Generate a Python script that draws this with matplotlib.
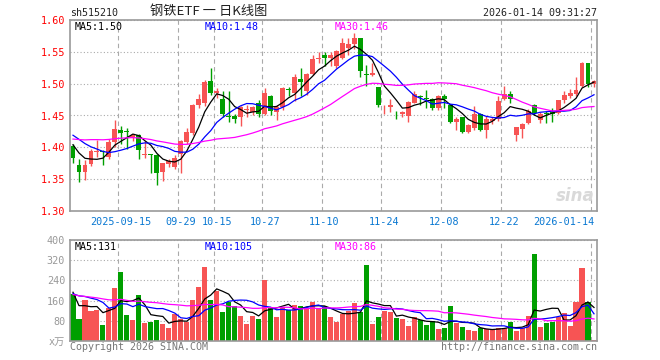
import numpy as np
import pandas as pd
import matplotlib
matplotlib.use('Agg')
import matplotlib.pyplot as plt

plt.rcParams['font.family'] = ['DejaVu Sans Mono', 'Noto Sans CJK SC']

# daily bars, 2025-09-03 .. 2026-01-14
opens = [1.402, 1.373, 1.361, 1.374, 1.393, 1.395, 1.385, 1.408, 1.428, 1.425,
         1.417, 1.419, 1.388, 1.389, 1.388, 1.361, 1.374, 1.369, 1.389, 1.409,
         1.422, 1.466, 1.469, 1.504, 1.485, 1.476, 1.449, 1.449, 1.448, 1.459,
         1.456, 1.470, 1.452, 1.480, 1.456, 1.464, 1.492, 1.486, 1.507, 1.488,
         1.515, 1.538, 1.545, 1.541, 1.527, 1.540, 1.556, 1.563, 1.571, 1.515,
         1.513, 1.494, 1.463, 1.464, 1.456, 1.452, 1.450, 1.470, 1.480, 1.478,
         1.476, 1.461, 1.480, 1.466, 1.440, 1.447, 1.424, 1.431, 1.452, 1.428,
         1.441, 1.444, 1.476, 1.483, 1.420, 1.429, 1.438, 1.466, 1.443, 1.454,
         1.456, 1.454, 1.474, 1.481, 1.483, 1.496, 1.532, 1.499]
highs = [1.405, 1.382, 1.380, 1.398, 1.412, 1.396, 1.413, 1.443, 1.434, 1.430,
         1.421, 1.421, 1.410, 1.389, 1.389, 1.376, 1.382, 1.388, 1.412, 1.431,
         1.468, 1.484, 1.506, 1.524, 1.493, 1.489, 1.489, 1.453, 1.465, 1.467,
         1.465, 1.474, 1.493, 1.482, 1.467, 1.495, 1.494, 1.515, 1.525, 1.517,
         1.545, 1.549, 1.549, 1.550, 1.553, 1.571, 1.572, 1.579, 1.572, 1.529,
         1.533, 1.494, 1.466, 1.476, 1.457, 1.457, 1.472, 1.488, 1.482, 1.490,
         1.478, 1.482, 1.483, 1.468, 1.448, 1.448, 1.436, 1.465, 1.454, 1.449,
         1.447, 1.480, 1.496, 1.488, 1.432, 1.438, 1.460, 1.468, 1.456, 1.457,
         1.462, 1.475, 1.488, 1.492, 1.510, 1.534, 1.533, 1.506]
lows = [1.375, 1.346, 1.348, 1.370, 1.385, 1.372, 1.382, 1.401, 1.405, 1.398,
        1.410, 1.381, 1.383, 1.360, 1.341, 1.347, 1.369, 1.366, 1.360, 1.406,
        1.419, 1.462, 1.465, 1.482, 1.478, 1.447, 1.440, 1.438, 1.433, 1.448,
        1.450, 1.448, 1.450, 1.451, 1.443, 1.458, 1.480, 1.473, 1.481, 1.482,
        1.514, 1.532, 1.527, 1.527, 1.524, 1.538, 1.545, 1.555, 1.511, 1.496,
        1.512, 1.464, 1.452, 1.455, 1.445, 1.447, 1.440, 1.469, 1.467, 1.462,
        1.459, 1.459, 1.461, 1.438, 1.427, 1.422, 1.422, 1.428, 1.425, 1.415,
        1.437, 1.441, 1.474, 1.470, 1.410, 1.415, 1.436, 1.451, 1.438, 1.438,
        1.440, 1.452, 1.470, 1.478, 1.481, 1.494, 1.494, 1.495]
closes = [1.383, 1.361, 1.373, 1.394, 1.395, 1.392, 1.408, 1.429, 1.423, 1.424,
          1.420, 1.396, 1.389, 1.388, 1.360, 1.375, 1.379, 1.383, 1.410, 1.424,
          1.466, 1.476, 1.503, 1.486, 1.489, 1.453, 1.447, 1.445, 1.463, 1.460,
          1.463, 1.452, 1.485, 1.457, 1.464, 1.493, 1.490, 1.511, 1.503, 1.515,
          1.539, 1.541, 1.540, 1.545, 1.551, 1.564, 1.563, 1.571, 1.520, 1.513,
          1.517, 1.467, 1.464, 1.467, 1.455, 1.455, 1.471, 1.483, 1.479, 1.476,
          1.462, 1.481, 1.476, 1.440, 1.445, 1.424, 1.435, 1.452, 1.428, 1.444,
          1.445, 1.472, 1.483, 1.476, 1.432, 1.436, 1.457, 1.454, 1.452, 1.452,
          1.453, 1.474, 1.482, 1.486, 1.490, 1.533, 1.500, 1.504]
# volume, 万
volumes = [187, 88, 164, 120, 124, 65, 131, 208, 272, 104,
           84, 184, 73, 76, 84, 69, 52, 107, 87, 77,
           164, 212, 292, 164, 200, 116, 156, 140, 100, 69,
           100, 88, 240, 131, 96, 136, 124, 144, 140, 131,
           156, 127, 140, 96, 76, 107, 120, 151, 116, 300,
           68, 97, 120, 116, 92, 87, 60, 97, 83, 64,
           80, 48, 53, 140, 72, 56, 44, 40, 52, 47,
           44, 53, 52, 76, 40, 53, 100, 344, 56, 72,
           77, 97, 111, 60, 156, 288, 156, 4]
# 29 sessions before the window, only used for the moving averages
pre_closes = [1.385, 1.39, 1.38, 1.395, 1.40, 1.39, 1.395, 1.40, 1.405, 1.41,
              1.415, 1.42, 1.43, 1.425, 1.42, 1.43, 1.435, 1.425, 1.42, 1.43,
              1.425, 1.44, 1.445, 1.43, 1.43, 1.425, 1.415, 1.40, 1.397]
pre_volumes = [230, 250, 200, 210, 190, 240, 220, 200, 230, 200,
               160, 140, 150, 130, 170, 140, 150, 145, 155, 140,
               170, 190, 185, 180, 180, 353, 165, 140, 120]

tick_idx = [8, 18, 24, 32, 42, 52, 62, 72, 87]
tick_labels = ['2025-09-15', '09-29', '10-15', '10-27', '11-10',
               '11-24', '12-08', '12-22', '2026-01-14']

RED = '#f75454'
GREEN = '#009f00'
FRAME = '#9a9a9a'
n = len(closes)
x = np.arange(n)


def ma(pre, vals, k):
    s = pd.Series(pre + vals, dtype=float).rolling(k).mean()
    return s.iloc[len(pre):].values


fig = plt.figure(figsize=(6.6, 3.6), dpi=100)
ax = fig.add_axes([70 / 660, 149 / 360, 527 / 660, 191 / 360])
axv = fig.add_axes([70 / 660, 19 / 360, 527 / 660, 101 / 360])

for a in (ax, axv):
    a.set_xlim(-0.5, n - 0.5)
    for s in a.spines.values():
        s.set_color(FRAME)
        s.set_linewidth(1.2)
    a.tick_params(length=0, labelsize=7.3)
    for t in tick_idx:
        a.axvline(t - 0.5, color='#aaaaaa', lw=0.8, ls=(0, (4, 3)), zorder=0)

# candles
o = np.array(opens); c = np.array(closes)
up = c >= o
col = np.where(up, RED, GREEN)
ax.vlines(x, lows, highs, colors=col, lw=1, zorder=2)
body = np.maximum(np.abs(c - o), 0.0008)
ax.bar(x, body, bottom=np.minimum(o, c), width=0.82, color=col, lw=0, zorder=3)

ax.plot(x, ma(pre_closes, closes, 5), color='black', lw=0.9, zorder=4)
ax.plot(x, ma(pre_closes, closes, 10), color='#0000ff', lw=0.9, zorder=4)
ax.plot(x, ma(pre_closes, closes, 30), color='#ff00ff', lw=0.9, zorder=4)

ax.set_ylim(1.30, 1.60)
yt = [1.30, 1.35, 1.40, 1.45, 1.50, 1.55, 1.60]
ax.set_yticks(yt)
ax.set_yticklabels(['%.2f' % v for v in yt], color='#ff0000')
ax.yaxis.grid(True, color='#aaaaaa', lw=0.8, ls=(0, (1, 2)))
ax.set_axisbelow(True)
ax.set_xticks(tick_idx)
ax.set_xticklabels(tick_labels, color='#0a78d2')
ax.tick_params(axis='x', pad=4)
ax.get_xticklabels()[-1].set_ha('right')

ax.text(5 / 527, 1 - 7 / 191, 'MA5:1.50', transform=ax.transAxes, fontsize=7.2, color='black', va='center')
ax.text(135 / 527, 1 - 7 / 191, 'MA10:1.48', transform=ax.transAxes, fontsize=7.2, color='#0000ff', va='center')
ax.text(265 / 527, 1 - 7 / 191, 'MA30:1.46', transform=ax.transAxes, fontsize=7.2, color='#ff00ff', va='center')
ax.text(0.995, 0.03, 'sina', transform=ax.transAxes, ha='right', va='bottom',
        fontsize=12, fontstyle='italic', fontweight='bold', color='#d9d9d9', family='DejaVu Sans')

# volume
axv.bar(x, volumes, width=0.85, color=col, lw=0, zorder=2)
axv.plot(x, ma(pre_volumes, volumes, 5), color='black', lw=0.9, zorder=4)
axv.plot(x, ma(pre_volumes, volumes, 10), color='#0000ff', lw=0.9, zorder=4)
axv.plot(x, ma(pre_volumes, volumes, 30), color='#ff00ff', lw=0.9, zorder=4)
axv.set_ylim(0, 400)
axv.set_yticks([0, 80, 160, 240, 320, 400])
axv.set_yticklabels(['x万', '80', '160', '240', '320', '400'], color='#999999')
axv.yaxis.grid(True, color='#aaaaaa', lw=0.8, ls=(0, (1, 2)))
axv.set_axisbelow(True)
axv.set_xticks([])
axv.text(5 / 527, 1 - 7 / 101, 'MA5:131', transform=axv.transAxes, fontsize=7.2, color='black', va='center')
axv.text(135 / 527, 1 - 7 / 101, 'MA10:105', transform=axv.transAxes, fontsize=7.2, color='#0000ff', va='center')
axv.text(265 / 527, 1 - 7 / 101, 'MA30:86', transform=axv.transAxes, fontsize=7.2, color='#ff00ff', va='center')

fig.text(70 / 660, 1 - 13 / 360, 'sh515210', fontsize=7.2, va='center', ha='left', color='#222222')
fig.text(209 / 660, 1 - 12 / 360, '钢铁ETF 一 日K线图', fontsize=9.5, va='center', ha='center',
         color='#222222', family=['Noto Sans CJK SC', 'DejaVu Sans'])
fig.text(597 / 660, 1 - 13 / 360, '2026-01-14 09:31:27', fontsize=7.2, va='center', ha='right', color='#222222')
fig.text(70 / 660, 1 - 347 / 360, 'Copyright 2026 SINA.COM', fontsize=7.2, va='center', ha='left', color='#777777')
fig.text(597 / 660, 1 - 347 / 360, 'http://finance.sina.com.cn', fontsize=7.2, va='center', ha='right', color='#777777')

fig.savefig('out.png', dpi=100)
